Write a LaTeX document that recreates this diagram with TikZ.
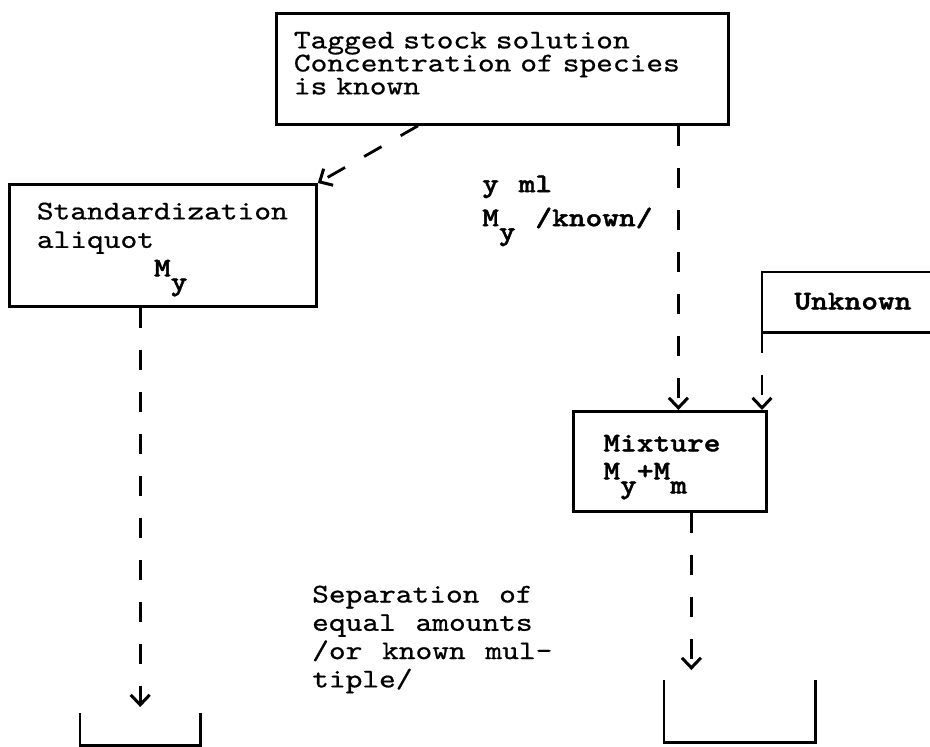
\documentclass[tikz,border=0pt]{standalone}
\usepackage{fontspec}
\setmonofont[FakeStretch=1.18, WordSpace={1.18,0,0},
  UprightFeatures={FakeBold=0.7},
  BoldFont=lmmonolt10-bold.otf, BoldFeatures={FakeBold=1.5}]{lmmono10-regular.otf}
\usepackage{tikz}
\usetikzlibrary{arrows.meta}
\usetikzlibrary{positioning}

% typewriter text, size fixed, line pitch as argument
\newcommand{\twfont}[1]{\ttfamily\fontsize{27pt}{#1}\selectfont\lineskiplimit=-40pt}
% typed subscript: one cell, dropped half a line
\newcommand{\tsub}[1]{\raisebox{-14pt}{#1}}

\begin{document}
\begin{tikzpicture}[
  x=1pt, y=-1pt,
  box/.style={draw, line width=2.8pt, align=left, inner ysep=0pt, anchor=north west,
              text height=0pt},
  note/.style={inner sep=0pt, align=left, anchor=north west},
  cup/.style={inner sep=0pt, anchor=north west},
  flow/.style={->, line width=2.8pt, dash pattern=on 20pt off 22pt},
]
\tikzset{>={Straight Barb[length=10pt, width=19pt, line width=3pt]}}
\useasboundingbox (0,0) rectangle (930,747);

  % Nodes
  \node[box, minimum height=111pt, text width=417pt, inner xsep=17.5pt,
        text depth=41pt, font=\twfont{23pt}] (stock) at (275,12)
        {Tagged stock solution\\Concentration of species\\is known};
  \node[box, minimum height=122pt, text width=252pt, inner xsep=27.5pt,
        text depth=52pt, font=\twfont{28.5pt}] (stdbox) at (8,183)
        {Standardization\\aliquot\\\phantom{aliquot}\textbf{M\tsub{y}}};
  \node[note, font=\twfont{34pt}\bfseries] (amount) at (482,175.5)
        {y ml\\M\tsub{y} /known/};
  \node[box, draw=none, minimum height=58pt, text width=136pt, inner xsep=31pt,
        text height=14pt, text depth=0pt, font=\twfont{28pt}\bfseries] (unknown) at (762,272)
        {Unknown};
  \node[box, minimum height=100pt, text width=133pt, inner xsep=30pt,
        text depth=20pt, font=\twfont{28pt}\bfseries] (mixture) at (572,410)
        {Mixture\\M\tsub{y}+M\tsub{m}};
  \node[note, font=\twfont{28.3pt}] (septext) at (312,585.5)
        {Separation of\\equal amounts\\/or known mul-\\tiple/};
  \node[cup, minimum width=120pt, minimum height=32pt] (leftcup) at (80,713) {};
  \node[cup, minimum width=151pt, minimum height=62pt] (rightcup) at (664,680) {};

  \coordinate (mixin) at ([xshift=8.5pt]mixture.north);
  \coordinate (mixout) at ([xshift=21.5pt]mixture.south);
  \coordinate (leftdrop) at ([yshift=6pt]leftcup.north);
  \coordinate (rightdrop) at ([yshift=10pt]rightcup.north);

  % Outlines
  \draw[line width=2.8pt] (unknown.north east) -- (unknown.north west)
    -- (unknown.south west) -- (unknown.south east);
  \draw[line width=2.8pt] (leftcup.north west) -- (leftcup.south west)
    -- (leftcup.south east) -- (leftcup.north east);
  \draw[line width=2.8pt] (rightcup.north west) -- (rightcup.south west)
    -- (rightcup.south east) -- (rightcup.north east);

  % Edges
  \draw[flow] ([xshift=143pt]stock.south west) -- (stdbox.north east);
  \draw[flow] (mixin |- stock.south) -- (mixin);
  \draw[flow] (unknown.south west) -- (unknown.south west |- mixture.north);
  \draw[flow] (stdbox.south -| leftcup.north) -- (leftdrop);
  \draw[flow] (mixout) -- (mixout |- rightdrop);

\end{tikzpicture}
\end{document}
